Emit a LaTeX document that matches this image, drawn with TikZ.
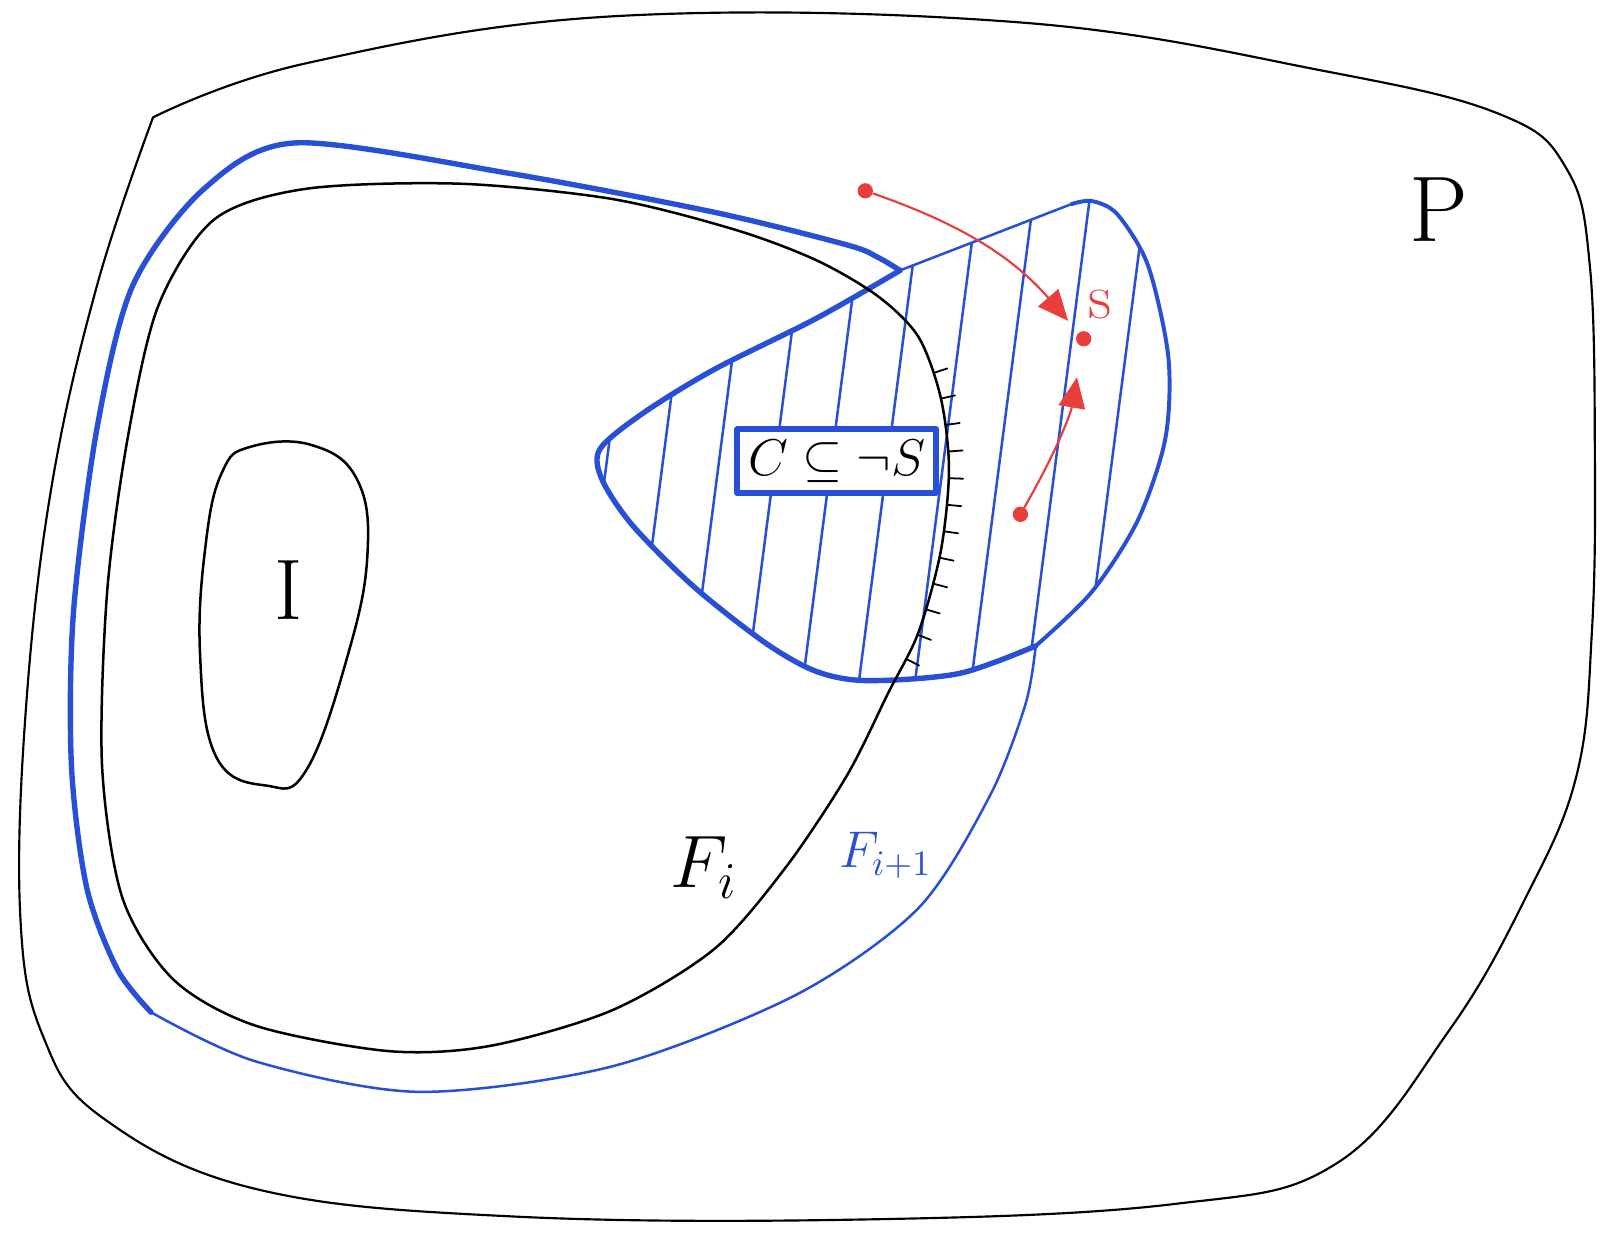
\documentclass[tikz,border=0pt]{standalone}
\usetikzlibrary{arrows.meta,decorations.markings}
\definecolor{fblue}{RGB}{40,80,215}
\definecolor{sred}{RGB}{232,62,62}
\begin{document}
\begin{tikzpicture}[x=0.1mm, y=-0.1mm, line join=round, line cap=round,
    >={Triangle[length=3mm,width=2.6mm]},
    dot/.style={circle, fill=sred, inner sep=0pt, minimum size=1.5mm},
    claim/.style={draw=fblue, line width=1.6pt, fill=white, inner sep=3pt,
      minimum width=15mm, minimum height=5.4mm, font=\fontsize{15}{18}\selectfont}]
    \useasboundingbox (0,0) rectangle (1568,1210);

    % 1. Tập P
    \draw[line width=0.6pt] plot[smooth, tension=0.65] coordinates {(150,115) (300,62) (600,16)
        (1000,22) (1300,70) (1470,112) (1535,165) (1558,260) (1563,450) (1560,620) (1545,760)
        (1495,880) (1420,1010) (1310,1140) (1150,1180) (850,1195) (500,1192) (250,1165) (100,1095)
        (42,1015) (20,900) (25,700) (50,480) (95,280) (150,115)};
    \node (P) at (1410,205) {\fontsize{26}{30}\selectfont P};

    % 2. Tập I
    \draw[line width=0.7pt] plot[smooth cycle, tension=0.7] coordinates {(245,438) (305,436)
        (350,470) (360,545) (340,645) (300,755) (262,770) (212,742) (196,640) (202,530) (218,462)};
    \node (I) at (283,578) {\fontsize{24}{28}\selectfont I};

    % 3. Vùng gạch (F_{i+1} không thuộc ~S)
    \begin{scope}
      \clip plot[smooth] coordinates {(882,265) (800,312) (700,362) (630,405) (588,440) (590,470)
          (620,515) (680,575) (750,630) (800,658) (850,667) (940,660) (1015,633)}
        -- plot[smooth] coordinates {(1015,633) (1070,580) (1115,510) (1142,430) (1145,350)
          (1125,260) (1095,210) (1070,197) (1050,200)} -- cycle;
      \foreach \x in {560,615,...,1200}
        \draw[fblue, line width=0.7pt] (\x,720) -- ++(75,-580);
    \end{scope}
    \draw[fblue, line width=1.5pt] plot[smooth] coordinates {(882,265) (800,312) (700,362)
        (630,405) (588,440) (590,470) (620,515) (680,575) (750,630) (800,658) (850,667) (940,660)
        (1015,633)};
    \draw[fblue, line width=1.1pt] plot[smooth] coordinates {(1015,633) (1070,580) (1115,510)
        (1142,430) (1145,350) (1125,260) (1095,210) (1070,197) (1050,200)};
    \draw[fblue, line width=0.7pt] (1050,200) -- (882,265);

    % 4. F_i
    \draw[line width=0.7pt, postaction={decorate}, decoration={markings,
        mark=between positions 0.014 and 0.12 step 0.0095 with {\draw[line width=0.5pt] (0,0) -- (0,4pt);}}]
        plot[smooth cycle] coordinates {(860,290) (900,330) (922,390) (930,460) (922,540) (900,620)
        (870,680) (830,760) (770,850) (700,930) (600,990) (480,1025) (380,1030) (250,1005)
        (170,960) (120,880) (100,750) (105,580) (125,430) (155,300) (210,215) (300,185) (450,180)
        (600,195) (720,225) (800,255)};
    \node (Fi) at (690,850) {\fontsize{20}{24}\selectfont $F_i$};

    % 5. F_{i+1}
    \draw[fblue, line width=1.5pt] plot[smooth] coordinates {(882,265) (860,252) (830,240)
        (700,208) (500,170) (290,140) (200,185) (130,280) (95,420) (72,600) (70,750) (85,870)
        (115,950) (148,992)};
    \draw[fblue, line width=0.7pt] plot[smooth] coordinates {(148,992) (250,1040) (410,1070)
        (600,1045) (780,975) (900,890) (970,780) (1005,690) (1015,633)};
    \node[fblue] (Fj) at (868,838) {\fontsize{14}{17}\selectfont $F_{i+1}$};

    % 6. Khẳng định
    \node[claim] (C) at (820,452) {$C\subseteq\neg S$};

    % 7. Các điểm và đường đi tới s
    \node[dot] (u) at (848,187) {};
    \node[dot] (s) at (1062,332) {};
    \node[dot] (v) at (1000,504) {};
    \node[sred] at (1078,298) {\fontsize{18}{21}\selectfont s};
    \draw[->, sred, line width=0.6pt, shorten >=1.5mm] (u) to[bend left=15] (s);
    \draw[->, sred, line width=0.6pt, shorten >=3mm] (v) to[bend right=10] (s);
\end{tikzpicture}
\end{document}
